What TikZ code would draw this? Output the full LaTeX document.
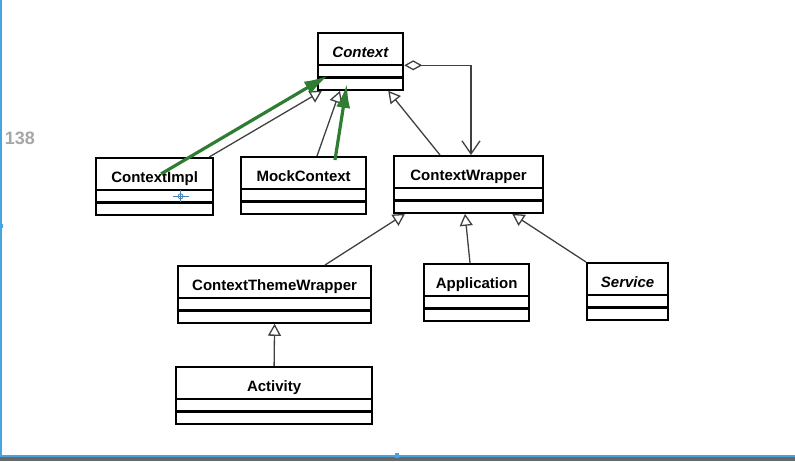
\documentclass[tikz,border=0pt]{standalone}
\usepackage{fontspec}
\setmainfont{Liberation Sans}
\usetikzlibrary{arrows.meta, positioning, calc, shapes.multipart}
\definecolor{notegreen}{RGB}{46,125,50}
\definecolor{framegray}{RGB}{105,105,105}
\definecolor{frameblue}{RGB}{70,165,225}
\definecolor{cursorblue}{RGB}{70,130,180}
\tikzstyle{umlclass} = [rectangle split, rectangle split parts=3, draw=black, line width=2.2pt, anchor=north west, inner xsep=2pt, inner ysep=0pt, rectangle split empty part height=10pt, rectangle split empty part depth=0pt, font=\fontsize{15}{17}\selectfont\bfseries]
\tikzstyle{inherit} = [line width=1.3pt, color=black!75, -{Triangle[open, length=12pt, width=13pt]}]
\tikzstyle{aggregate} = [line width=1.3pt, color=black!75, {Diamond[open, length=18pt, width=10pt]}-{Straight Barb[length=13pt, width=18pt]}]
\tikzstyle{notearrow} = [line width=3.2pt, color=notegreen, -{Latex[length=24pt, width=14pt]}]
\newcommand{\clsname}[1]{\rule[-7pt]{0pt}{30pt}#1\nodepart{two}\nodepart{three}}

\begin{document}
\begin{tikzpicture}[x=1pt, y=-1pt]

\useasboundingbox (0,0) rectangle (795,461);

% Screen frame
\fill[framegray] (0,457) rectangle (795,461);
\draw[frameblue, line width=2pt] (0,455.5) -- (795,455.5);
\draw[frameblue, line width=1.5pt] (0.75,0) -- (0.75,455);
\fill[frameblue] (0,224) rectangle (3,228);
\fill[frameblue] (395,453) rectangle (399,458);
\node[anchor=east, inner sep=0pt, text=black!35, font=\fontsize{18}{20}\selectfont\bfseries] (pagenum) at (35,138) {138};

% Classes
\node[umlclass, minimum width=85pt] (context) at (317,32) {\clsname{\textit{Context}}};
\node[umlclass, minimum width=117pt] (impl) at (95,157) {\clsname{ContextImpl}};
\node[umlclass, minimum width=125pt] (mock) at (240,156) {\clsname{MockContext}};
\node[umlclass, minimum width=149pt] (wrapper) at (393,155) {\clsname{ContextWrapper}};
\node[umlclass, minimum width=193pt] (theme) at (177,265) {\clsname{ContextThemeWrapper}};
\node[umlclass, minimum width=105pt] (app) at (423,263) {\clsname{Application}};
\node[umlclass, minimum width=81pt] (service) at (586,262) {\clsname{\textit{Service}}};
\node[umlclass, minimum width=196pt] (activity) at (175,366) {\clsname{Activity}};

% Inheritance
\draw[inherit] ([xshift=-5pt]impl.north east) -- ([xshift=5pt]context.south west);
\draw[inherit] ([xshift=77pt]mock.north west) -- ([xshift=23pt]context.south west);
\draw[inherit] ([xshift=47pt]wrapper.north west) -- ([xshift=-16pt]context.south east);
\draw[inherit] ([xshift=148pt]theme.north west) -- ([xshift=12pt]wrapper.south west);
\draw[inherit] ([xshift=47pt]app.north west) -- ([xshift=72pt]wrapper.south west);
\draw[inherit] (service.north west) -- ([xshift=-32pt]wrapper.south east);
\draw[inherit] (activity.north) -- (theme.south);

% Aggregation
\draw[aggregate] (context.one split east) -| ([xshift=78pt]wrapper.north west);

% Green notes
\draw[notearrow] ([xshift=6.5pt, yshift=12.5pt]impl.center) -- ([xshift=11pt, yshift=2pt]context.two split west);
\draw[notearrow] ([xshift=95pt, yshift=-4pt]mock.north west) -- ([xshift=30pt, yshift=7pt]context.south west);

% Cursor
\node[circle, draw=cursorblue, line width=0.8pt, minimum size=5pt, inner sep=0pt] (cursor) at ([xshift=26pt, yshift=-6pt]impl.one split) {};
\draw[cursorblue, line width=0.8pt] ([xshift=-5pt]cursor.west) -- ([xshift=5pt]cursor.east) ([yshift=3pt]cursor.north) -- ([yshift=-3pt]cursor.south);

\end{tikzpicture}
\end{document}
